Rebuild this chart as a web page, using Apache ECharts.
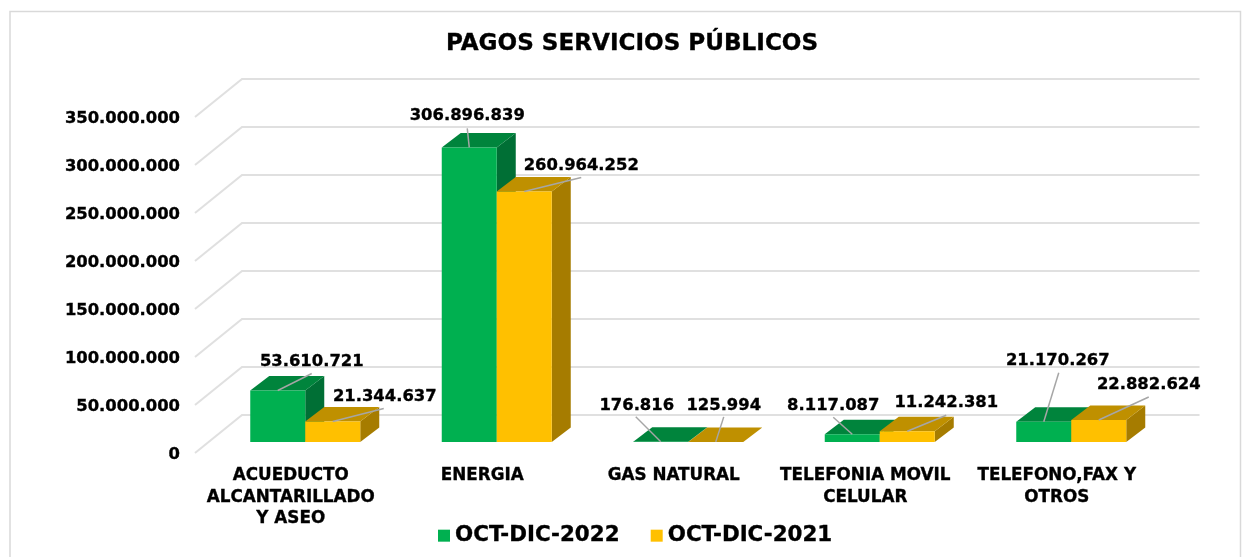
<!DOCTYPE html>
<html>
<head>
<meta charset="utf-8">
<style>html,body{margin:0;padding:0;background:#fff}#c{width:1247px;height:557px}</style>
<script src="https://cdn.jsdelivr.net/npm/echarts@6/dist/echarts.min.js"></script>
</head>
<body>
<div id="c"></div>
<script>
const chartTitle = 'PAGOS SERVICIOS PÚBLICOS';
const categories = ['ACUEDUCTO\nALCANTARILLADO\nY ASEO', 'ENERGIA', 'GAS NATURAL', 'TELEFONIA MOVIL\nCELULAR', 'TELEFONO,FAX Y\nOTROS'];
const seriesNames = ['OCT-DIC-2022', 'OCT-DIC-2021'];
const values2022 = [53610721, 306896839, 176816, 8117087, 21170267];
const values2021 = [21344637, 260964252, 125994, 11242381, 22882624];
const yTicks = [0, 50000000, 100000000, 150000000, 200000000, 250000000, 300000000, 350000000];

// Hand-placed data label layout, relative to the top-front centre of each bar: [text dx, text dy, leader dx, leader dy]
const labelLayout2022 = [[34, -29, 34, -17], [-2, -32, -2, -19], [-24, -36, -25, -25], [-19, -28, -19, -17], [14, -61, 15, -49]];
const labelLayout2021 = [[52, -25, 51, -13], [57, -26, 57, -14], [8, -36, 8, -25], [39, -28, 39, -16], [50, -35, 50, -23]];

const FONT = '"DejaVu Sans", Verdana, sans-serif';
const fmt = v => String(v).replace(/\B(?=(\d{3})+(?!\d))/g, '.');

const WALL = [47, -38], PLANE = [14.5, -11], DEPTH = [19, -14.5], BAR_FRAC = 55 / 191.5;
const HEAVY = { textBorderColor: '#000', textBorderWidth: 0.35 };

function wallItem(params, api) {
  const y = api.coord([0, api.value(1)])[1];
  const l = params.coordSys.x, r = l + params.coordSys.width;
  return { type: 'polyline', silent: true,
    shape: { points: [[l, y], [l + WALL[0], y + WALL[1]], [r + WALL[0], y + WALL[1]]] },
    style: { stroke: '#e0e0e0', lineWidth: 2, fill: null } };
}

function barRenderer(seriesIdx, colors, layout) {
  return function (params, api) {
    const i = api.value(0), v = api.value(1);
    const top = api.coord([i, v]), base = api.coord([i, 0]);
    const w = api.size([1, 0])[0] * BAR_FRAC;
    const x0 = top[0] + PLANE[0] + (seriesIdx === 0 ? -w : 0), x1 = x0 + w;
    const yt = top[1] + PLANE[1], yb = base[1] + PLANE[1];
    const dx = DEPTH[0], dy = DEPTH[1];
    const cx = (x0 + x1) / 2;
    const lay = layout[i];
    const poly = (points, fill) => ({ type: 'polygon', silent: true, shape: { points }, style: { fill } });
    return { type: 'group', children: [
      poly([[x1, yt], [x1 + dx, yt + dy], [x1 + dx, yb + dy], [x1, yb]], colors[2]),
      poly([[x0, yt], [x0 + dx, yt + dy], [x1 + dx, yt + dy], [x1, yt]], colors[1]),
      poly([[x0, yt], [x1, yt], [x1, yb], [x0, yb]], colors[0]),
      { type: 'line', silent: true, shape: { x1: cx, y1: yt, x2: cx + lay[2], y2: yt + lay[3] },
        style: { stroke: '#a6a6a6', lineWidth: 1.5 } },
      { type: 'text', silent: true, z2: 50,
        style: { text: fmt(v), x: cx + lay[0], y: yt + lay[1], align: 'center', verticalAlign: 'middle',
          fill: '#000', stroke: '#000', lineWidth: 0.35, fontFamily: FONT, fontWeight: 'bold', fontSize: 16.4 } }
    ] };
  };
}

const chart = echarts.init(document.getElementById('c'), null, { renderer: 'canvas' });
chart.setOption({
  animation: false,
  backgroundColor: '#fff',
  graphic: [{ type: 'rect', silent: true, z: -10,
    shape: { x: 10, y: 11.5, width: 1230.5, height: 560 },
    style: { fill: 'none', stroke: '#d9d9d9', lineWidth: 1.5 } }],
  title: { text: chartTitle, left: 627, top: 39, textAlign: 'center', textVerticalAlign: 'middle',
    textStyle: Object.assign({ fontFamily: FONT, fontWeight: 'bold', fontSize: 23.1, color: '#000' }, HEAVY) },
  legend: { data: seriesNames, left: 433, top: 520, itemWidth: 12, itemHeight: 12, itemGap: 31, icon: 'rect',
    textStyle: Object.assign({ fontFamily: FONT, fontWeight: 'bold', fontSize: 21.4, color: '#000' }, HEAVY) },
  grid: { left: 195, right: 94.5, top: 117, bottom: 104, containLabel: false },
  xAxis: { type: 'category', data: categories,
    axisLine: { show: false }, axisTick: { show: false }, splitLine: { show: false },
    axisLabel: Object.assign({ interval: 0, margin: 12, lineHeight: 21.5, fontFamily: FONT, fontWeight: 'bold', fontSize: 16.8, color: '#000' }, HEAVY) },
  yAxis: { type: 'value', min: 0, max: 350000000, interval: 50000000,
    axisLine: { show: false }, axisTick: { show: false }, splitLine: { show: false },
    axisLabel: Object.assign({ margin: 15, verticalAlign: 'top', lineHeight: 4, formatter: fmt, fontFamily: FONT, fontWeight: 'bold', fontSize: 16.4, color: '#000' }, HEAVY) },
  series: [
    { type: 'custom', name: 'wall', silent: true, clip: false, z: 1, renderItem: wallItem,
      encode: { x: 0, y: 1 }, data: yTicks.map(v => [0, v]) },
    { type: 'custom', name: seriesNames[0], clip: false, z: 2, itemStyle: { color: '#00B050' },
      renderItem: barRenderer(0, ['#00B050', '#00843C', '#006F35'], labelLayout2022),
      encode: { x: 0, y: 1 }, data: values2022.map((v, i) => [i, v]) },
    { type: 'custom', name: seriesNames[1], clip: false, z: 3, itemStyle: { color: '#FFC000' },
      renderItem: barRenderer(1, ['#FFC000', '#BF9000', '#A67C00'], labelLayout2021),
      encode: { x: 0, y: 1 }, data: values2021.map((v, i) => [i, v]) }
  ]
});
</script>
</body>
</html>
